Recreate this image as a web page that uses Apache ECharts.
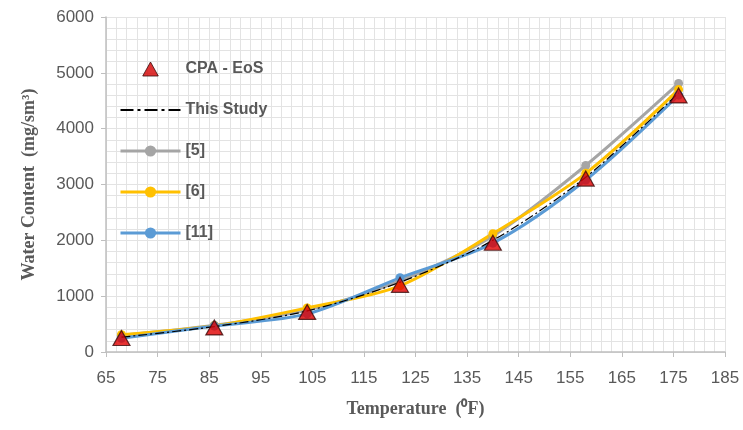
<!DOCTYPE html>
<html>
<head>
<meta charset="utf-8">
<script src="https://cdn.jsdelivr.net/npm/echarts@6/dist/echarts.min.js"></script>
<style>
  html, body { margin: 0; padding: 0; background: #fff; }
  #chart { width: 743px; height: 430px; }
</style>
</head>
<body>
<div id="chart"></div>
<script>
// temperatures (°F)
const temps = [68, 86, 104, 122, 140, 158, 176];
// water content (mg/sm3)
const cpaEos = [251, 440, 718, 1203, 1957, 3106, 4596];
const thisStudy = [265, 455, 736, 1250, 2000, 3130, 4640];
const ref5 = [300, 480, 750, 1275, 2080, 3340, 4810];
const ref6 = [310, 470, 790, 1185, 2120, 3200, 4700];
const ref11 = [245, 465, 682, 1329, 1950, 3080, 4600];

const pairs = vals => temps.map((t, i) => [t, vals[i]]);

const txtColor = "#595959";
const gridColor = "#e3e3e3";
const labelFont = "Liberation Sans";

const chart = echarts.init(document.getElementById("chart"));

function lineSeries(name, vals, color) {
  return {
    name: name,
    type: "line",
    data: pairs(vals),
    smooth: 0.3,
    symbol: "circle",
    symbolSize: 9,
    itemStyle: { color: color },
    lineStyle: { color: color, width: 3 },
    z: 2
  };
}

chart.setOption({
  animation: false,
  grid: { left: 106, right: 18, top: 17, bottom: 78 },
  legend: {
    orient: "vertical",
    left: 114,
    top: 56,
    itemWidth: 60,
    itemHeight: 14,
    itemGap: 25,
    lineStyle: { width: 3 },
    textStyle: { color: txtColor, fontSize: 16, fontWeight: "bold", fontFamily: labelFont },
    data: [
      {
        name: "CPA - EoS",
        icon: "path://M5,0 L10,9 L0,9 Z",
        itemStyle: { color: "#d40000", borderColor: "#3b0a0a", borderWidth: 1 }
      },
      {
        name: "This Study",
        // dash-dot legend sample
        icon: "path://M0,0h13v2h-13Z M17,0h3v2h-3Z M24,0h13v2h-13Z M41,0h3v2h-3Z M48,0h12v2h-12Z",
        itemStyle: { color: "#000", borderWidth: 0 }
      },
      "[5]",
      "[6]",
      "[11]"
    ]
  },
  xAxis: {
    type: "value",
    min: 65,
    max: 185,
    interval: 10,
    name: "Temperature  (\u2070F)",
    nameLocation: "middle",
    nameGap: 48,
    nameTextStyle: { color: txtColor, fontSize: 18, fontWeight: "bold", fontFamily: "Liberation Serif" },
    axisLine: { lineStyle: { color: "#bfbfbf", width: 1.5 } },
    axisTick: { show: true, length: 5, lineStyle: { color: "#bfbfbf" } },
    axisLabel: { color: txtColor, fontSize: 17, margin: 18, fontFamily: labelFont },
    splitLine: { show: true, lineStyle: { color: gridColor } },
    minorTick: { show: false, splitNumber: 5 },
    minorSplitLine: { show: true, lineStyle: { color: gridColor } }
  },
  yAxis: {
    type: "value",
    min: 0,
    max: 6000,
    interval: 1000,
    name: "Water Content  (mg/sm\u00b3)",
    nameLocation: "middle",
    nameGap: 68,
    nameTextStyle: { color: txtColor, fontSize: 18, fontWeight: "bold", fontFamily: "Liberation Serif" },
    axisLine: { show: true, lineStyle: { color: "#bfbfbf", width: 1.5 } },
    axisTick: { show: true, length: 5, lineStyle: { color: "#bfbfbf" } },
    axisLabel: { color: txtColor, fontSize: 17, margin: 12, fontFamily: labelFont, formatter: v => String(v) },
    splitLine: { show: true, lineStyle: { color: gridColor } },
    minorTick: { show: false, splitNumber: 5 },
    minorSplitLine: { show: true, lineStyle: { color: gridColor } }
  },
  series: [
    {
      name: "CPA - EoS",
      type: "scatter",
      data: pairs(cpaEos),
      symbol: "triangle",
      symbolSize: [17, 15],
      itemStyle: { color: "#e00000", borderColor: "#3b0a0a", borderWidth: 1.2 },
      z: 5
    },
    {
      name: "This Study",
      type: "line",
      data: pairs(thisStudy),
      smooth: 0.3,
      symbol: "none",
      itemStyle: { color: "#000" },
      lineStyle: { color: "#000", width: 1.2, type: [9, 3, 2, 3] },
      z: 4
    },
    lineSeries("[5]", ref5, "#a5a5a5"),
    lineSeries("[6]", ref6, "#ffc000"),
    lineSeries("[11]", ref11, "#5b9bd5")
  ]
});
</script>
</body>
</html>
